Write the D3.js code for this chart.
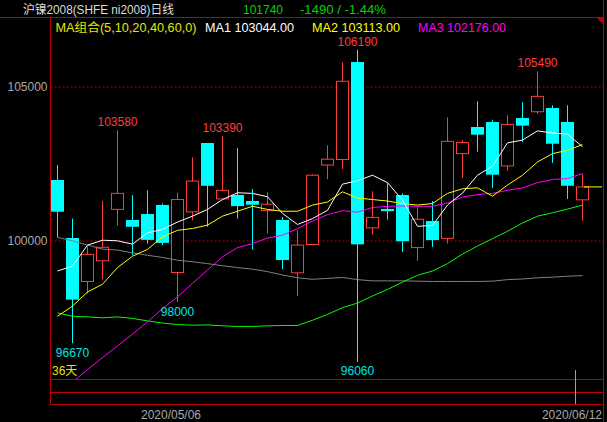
<!DOCTYPE html>
<html>
<head>
<meta charset="utf-8">
<script src="https://cdn.jsdelivr.net/npm/d3@7"></script>
<style>
  body { margin: 0; background: #000; }
  svg { display: block; }
  text { font-family: "Liberation Sans", Arial, "Noto Sans CJK SC", sans-serif; font-size: 12px; }
</style>
</head>
<body>
<script>
const WIDTH = 607
const HEIGHT = 422

// 日期 (36 个交易日)
const dates = ["2020/04/21", "2020/04/22", "2020/04/23", "2020/04/24", "2020/04/27", "2020/04/28",
  "2020/04/29", "2020/04/30", "2020/05/06", "2020/05/07", "2020/05/08", "2020/05/11",
  "2020/05/12", "2020/05/13", "2020/05/14", "2020/05/15", "2020/05/18", "2020/05/19",
  "2020/05/20", "2020/05/21", "2020/05/22", "2020/05/25", "2020/05/26", "2020/05/27",
  "2020/05/28", "2020/05/29", "2020/06/01", "2020/06/02", "2020/06/03", "2020/06/04",
  "2020/06/05", "2020/06/08", "2020/06/09", "2020/06/10", "2020/06/11", "2020/06/12"]

const open = [101960, 100080, 98670, 99340, 101010, 100660, 100850, 101150, 98960, 100930, 103160, 101350,
  101450, 101280, 100970, 100660, 98950, 99870, 102450, 102630, 105790, 100410, 101020, 101450,
  99770, 100630, 100070, 102820, 103680, 103840, 102420, 103970, 104180, 104300, 103840, 101320]
const high = [102450, 100710, 99800, 101280, 103580, 101470, 101630, 101200, 101560, 102700, 103160, 103390,
  103000, 101670, 101570, 100760, 100330, 102150, 103090, 105790, 106190, 101600, 101860, 101530,
  101090, 101280, 104000, 103260, 104520, 103920, 104070, 104490, 105490, 104390, 104390, 102150]
const low = [100100, 96670, 98280, 98740, 100480, 99520, 99900, 99850, 98000, 100660, 100450, 101350,
  100710, 99710, 100230, 99070, 98190, 99870, 101990, 102320, 96060, 100190, 100680, 99630,
  99340, 99790, 99900, 102030, 102880, 101710, 102260, 103200, 104110, 102520, 101350, 100640]
const close = [100930, 98080, 99550, 99780, 101530, 100440, 100010, 99920, 101330, 101930, 101770, 101630,
  101090, 101160, 101180, 99360, 99850, 102120, 102640, 105170, 99870, 100750, 100950, 99950,
  100690, 100010, 103220, 103180, 103430, 102130, 103770, 103720, 104680, 103140, 101770, 101740]

// 均线 MA5 / MA10 / MA20 / MA40 / MA60
const ma5 = [99010, 99170, 99850, 100010, 99990, 99880, 100250, 100360, 100600, 100790, 101010, 101330,
  101550, 101530, 101420, 100880, 100520, 100710, 100980, 101830, 101940, 102120, 101880, 101310,
  100460, 100490, 101150, 101540, 102120, 102410, 103170, 103260, 103560, 103490, 103450, 103044]
const ma10 = [97540, 97870, 98330, 98580, 99120, 99490, 99710, 100120, 100330, 100390, 100500, 100790,
  100950, 101110, 101010, 100950, 100950, 101150, 101250, 101580, 101380, 101330, 101280, 101200,
  101150, 101200, 101530, 101680, 101710, 101440, 101800, 102120, 102550, 102820, 102930, 103113]
const ma20 = [94940, 95400, 95810, 96200, 96580, 96960, 97360, 97790, 98170, 98610, 99040, 99470,
  99770, 99900, 100080, 100170, 100390, 100630, 100840, 100970, 100920, 101070, 101110, 101120,
  101110, 101110, 101220, 101410, 101490, 101530, 101630, 101710, 101880, 101980, 102010, 102176]
const ma40 = [97650, 97540, 97520, 97490, 97520, 97470, 97390, 97320, 97270, 97250, 97260, 97230,
  97210, 97210, 97230, 97240, 97240, 97410, 97600, 97820, 97970, 98200, 98410, 98650,
  98870, 99010, 99250, 99560, 99820, 100060, 100300, 100570, 100790, 100900, 101020, 101150]
const ma60 = [100100, 99990, 99850, 99720, 99690, 99600, 99520, 99450, 99360, 99310, 99250, 99180,
  99120, 99070, 98990, 98880, 98790, 98740, 98770, 98800, 98730, 98690, 98690, 98690,
  98680, 98670, 98670, 98670, 98670, 98680, 98730, 98750, 98790, 98810, 98840, 98860]

const yTicks = [100000, 105000]
const highMarks = [4, 11, 20, 32]
const lowMarks = [1, 8, 20]
const dateTicks = [8, 35]

const lastPrice = 101740
const change = "-1490 / -1.44%"

const LEFT = 50.5, RIGHT = 603.5, TOP = 17.5, BOTTOM = 379.5
const RED = "#ff3c3c", CYAN = "#00ffff", FRAME = "#c00000"

const svg = d3.select("body").append("svg").attr("width", WIDTH).attr("height", HEIGHT)
svg.append("rect").attr("width", WIDTH).attr("height", HEIGHT).attr("fill", "#000")

const x = d3.scaleLinear().domain([0, dates.length - 1]).range([57.5, 582.5])
const y = d3.scaleLinear().domain([100000, 105000]).range([240.5, 86.5])

svg.append("clipPath").attr("id", "plot")
  .append("rect").attr("x", LEFT + 0.5).attr("y", TOP + 0.5)
  .attr("width", RIGHT - LEFT - 1).attr("height", BOTTOM - TOP - 1)

// 网格 + 纵轴
const grid = svg.append("g").attr("transform", `translate(${LEFT},0)`)
  .call(d3.axisLeft(y).tickValues(yTicks).tickSize(-(RIGHT - LEFT)).tickFormat(""))
grid.select(".domain").remove()
grid.selectAll("line").attr("stroke", "#a00000").attr("stroke-dasharray", "2,2")

const yAxis = svg.append("g").attr("transform", `translate(${LEFT - 3},0)`)
  .call(d3.axisLeft(y).tickValues(yTicks).tickSize(0).tickPadding(0).tickFormat(d3.format("d")))
yAxis.select(".domain").remove()
yAxis.selectAll("text").attr("fill", "#a8a8a8").attr("font-size", 12)
  .attr("font-family", "Liberation Sans, Arial, sans-serif")

// 边框
const frame = svg.append("g").attr("stroke", FRAME).attr("stroke-width", 1)
frame.append("line").attr("x1", 0).attr("x2", RIGHT).attr("y1", TOP).attr("y2", TOP)
frame.append("line").attr("x1", LEFT).attr("x2", LEFT).attr("y1", TOP).attr("y2", 404.5)
frame.append("line").attr("x1", RIGHT).attr("x2", RIGHT).attr("y1", 0).attr("y2", HEIGHT)
;[379.5, 392.5, 404.5].forEach(v =>
  frame.append("line").attr("x1", LEFT).attr("x2", RIGHT).attr("y1", v).attr("y2", v))
svg.append("path").attr("d", "M597,18L603,18L603,24Z").attr("fill", FRAME)

// K 线
const idx = d3.range(dates.length)
const candles = svg.append("g").selectAll("g").data(idx).enter().append("g")
candles.append("line")
  .attr("x1", i => x(i)).attr("x2", i => x(i))
  .attr("y1", i => y(high[i])).attr("y2", i => y(low[i]))
  .attr("stroke", i => close[i] >= open[i] ? RED : CYAN)
candles.append("rect")
  .attr("x", i => close[i] >= open[i] ? x(i) - 6 : x(i) - 6.5)
  .attr("y", i => close[i] >= open[i] ? y(close[i]) : Math.round(y(open[i]) - 0.5))
  .attr("width", i => close[i] >= open[i] ? 12 : 13)
  .attr("height", i => Math.max(1, Math.abs(y(open[i]) - y(close[i]))))
  .attr("fill", i => close[i] >= open[i] ? "#000" : CYAN)
  .attr("stroke", i => close[i] >= open[i] ? RED : "none")

// 均线
const maLines = [
  { values: ma60, color: "#808080" },
  { values: ma40, color: "#00ff00" },
  { values: ma20, color: "#ff00ff" },
  { values: ma10, color: "#ffff00" },
  { values: ma5, color: "#ffffff" }
]
const line = d3.line().x((d, i) => x(i)).y(d => y(d))
svg.append("g").attr("clip-path", "url(#plot)").selectAll("path").data(maLines).enter().append("path")
  .attr("d", d => line(d.values)).attr("fill", "none").attr("stroke", d => d.color).attr("stroke-width", 1)

// 最新价
const last = dates.length - 1
svg.append("line").attr("x1", x(last) + 1.5).attr("x2", RIGHT - 1.5)
  .attr("y1", y(lastPrice)).attr("y2", y(lastPrice)).attr("stroke", "#ffff00")

// 最高 / 最低 标注
svg.append("g").selectAll("text").data(highMarks).enter().append("text")
  .attr("x", i => x(i)).attr("y", i => y(high[i]) - 4).attr("text-anchor", "middle")
  .attr("fill", RED).text(i => high[i])
svg.append("g").selectAll("text").data(lowMarks).enter().append("text")
  .attr("x", i => x(i)).attr("y", i => y(low[i]) + 13.5).attr("text-anchor", "middle")
  .attr("fill", "#00e6e6").text(i => low[i])

svg.append("text").attr("x", 52).attr("y", 375).attr("fill", "#e6e600").text(dates.length + "天")

// 光标标记
svg.append("line").attr("x1", x(last) - 7).attr("x2", x(last) - 7).attr("y1", 370).attr("y2", 404)
  .attr("stroke", "#a0a0a0")

// 日期
svg.append("g").selectAll("text").data(dateTicks).enter().append("text")
  .attr("y", 418.5).attr("fill", "#a8a8a8").text(i => dates[i])
  .each(function (i) {
    const w = this.getComputedTextLength()
    let x0 = x(i) - 6.5 - w / 2
    if (x0 + w > RIGHT - 1.5) x0 = RIGHT - 1.5 - w
    d3.select(this).attr("x", x0)
  })

// 标题
const title = [
  { text: "沪镍2008(SHFE ni2008)日线", x: 23, len: 151, color: "#dcdcdc" },
  { text: String(lastPrice), x: 243, len: 40, color: "#00d200" },
  { text: change, x: 300, len: 86, color: "#00d200" }
]
svg.append("g").selectAll("text").data(title).enter().append("text")
  .attr("x", d => d.x).attr("y", 13.5).attr("fill", d => d.color)
  .attr("textLength", d => d.len).attr("lengthAdjust", "spacingAndGlyphs").text(d => d.text)

const legend = [
  { text: "MA组合(5,10,20,40,60,0)", x: 55.5, len: 141, color: "#e6e600" },
  { text: "MA1 " + ma5[last].toFixed(2), x: 205, len: 89, color: "#ffffff" },
  { text: "MA2 " + ma10[last].toFixed(2), x: 312, len: 88, color: "#ffff00" },
  { text: "MA3 " + ma20[last].toFixed(2), x: 418, len: 88, color: "#ff00ff" }
]
svg.append("g").selectAll("text").data(legend).enter().append("text")
  .attr("x", d => d.x).attr("y", 31.5).attr("fill", d => d.color)
  .attr("textLength", d => d.len).attr("lengthAdjust", "spacingAndGlyphs").text(d => d.text)
</script>
</body>
</html>
